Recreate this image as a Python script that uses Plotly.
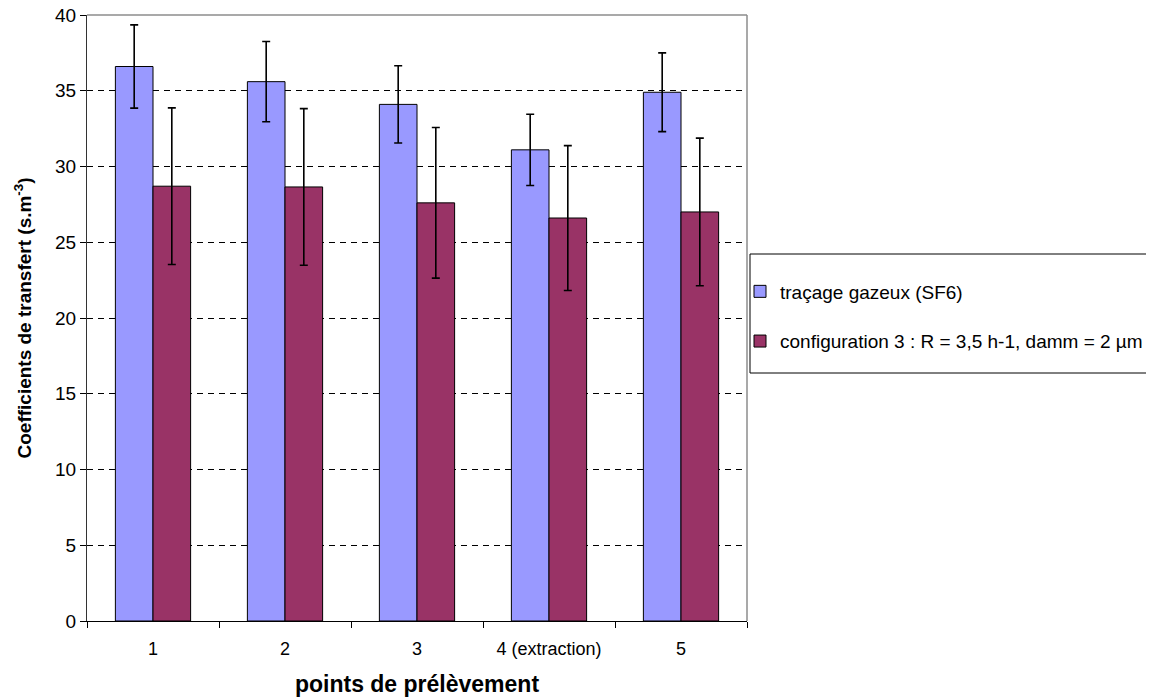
import plotly.graph_objects as go

categories = ["1", "2", "3", "4 (extraction)", "5"]
sf6_values = [36.6, 35.6, 34.1, 31.1, 34.9]
sf6_errors = [2.75, 2.65, 2.55, 2.35, 2.6]
config_values = [28.7, 28.65, 27.6, 26.6, 27.0]
config_errors = [5.17, 5.17, 4.97, 4.78, 4.87]
y_ticks = [0, 5, 10, 15, 20, 25, 30, 35, 40]

FONT = "Liberation Sans, Arial, sans-serif"

# page geometry (body margin of 8px is compensated)
PL, PR, PT, PB = 87, 747, 15, 621
W, H = 1146, 689
def px(x):
    return (x - PL) / (PR - PL)
def py(y):
    return (PB - y) / (PB - PT)

fig = go.Figure()
fig.add_trace(go.Bar(
    x=categories, y=sf6_values, name="traçage gazeux (SF6)",
    marker=dict(color="#9999FF", line=dict(color="black", width=1)),
    error_y=dict(type="data", array=sf6_errors, color="black", thickness=1.6, width=4),
    legendgroup="a",
))
fig.add_trace(go.Bar(
    x=categories, y=config_values, name="configuration 3 : R = 3,5 h-1, damm = 2 µm",
    marker=dict(color="#993366", line=dict(color="black", width=1)),
    error_y=dict(type="data", array=config_errors, color="black", thickness=1.6, width=4),
    legendgroup="b",
))

fig.update_layout(
    width=W, height=H,
    margin=dict(l=PL - 8, r=W - (PR - 8), t=PT - 8, b=H - (PB - 8), autoexpand=False),
    paper_bgcolor="white", plot_bgcolor="white",
    barmode="group", bargap=0.43, bargroupgap=0,
    font=dict(family=FONT, size=19, color="black"),
    showlegend=True,
    legend=dict(
        x=px(740), y=py(316.5), xanchor="left", yanchor="middle",
        font=dict(family=FONT, size=19, color="black"),
        traceorder="grouped", tracegroupgap=22, itemwidth=30,
        bgcolor="rgba(0,0,0,0)", borderwidth=0,
    ),
    xaxis=dict(
        type="category", showgrid=False, showline=True, linecolor="black", linewidth=1,
        ticks="outside", ticklen=6, tickcolor="black", tickson="boundaries",
        ticklabelstandoff=11, automargin=False,
        tickfont=dict(family=FONT, size=18),
        title=dict(text="<b>points de prélèvement</b>", font=dict(family=FONT, size=23), standoff=18),
    ),
    yaxis=dict(
        range=[0, 40], tickvals=y_ticks, showline=True, linecolor="#333333", linewidth=1,
        ticks="outside", ticklen=6, tickcolor="black",
        ticklabeloverflow="allow", automargin=False,
        showgrid=True, gridcolor="black", griddash="6px,5px", gridwidth=1,
        zeroline=False,
        tickfont=dict(family=FONT, size=19),
        title=dict(text="<b>Coefficients de transfert (s.m<sup>-3</sup>)</b>",
                   font=dict(family=FONT, size=19), standoff=18),
    ),
    shapes=[
        dict(type="line", xref="paper", yref="paper", x0=0, x1=1, y0=1, y1=1,
             line=dict(color="#8c8c8c", width=1.5)),
        dict(type="line", xref="paper", yref="paper", x0=1, x1=1, y0=0, y1=1,
             line=dict(color="#8c8c8c", width=1.5)),
        dict(type="rect", xref="paper", yref="paper",
             x0=px(750), x1=px(1148), y0=py(373), y1=py(254),
             line=dict(color="black", width=1)),
    ],
)

fig.write_html("out.html")
